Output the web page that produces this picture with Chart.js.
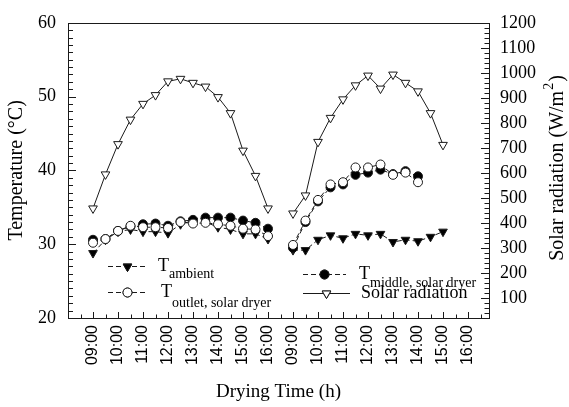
<!DOCTYPE html>
<html>
<head>
<meta charset="utf-8">
<script src="https://cdn.jsdelivr.net/npm/chart.js@4.4.1/dist/chart.umd.min.js"></script>
<style>
  html, body { margin: 0; padding: 0; background: #fff; }
  canvas { display: block; }
</style>
</head>
<body>
<canvas id="dryerChart" width="569" height="407"></canvas>
<script>
// sampling times (every 30 min) for the two drying days
const day1Times = ['09:00', '09:30', '10:00', '10:30', '11:00', '11:30', '12:00', '12:30',
  '13:00', '13:30', '14:00', '14:30', '15:00', '15:30', '16:00'];
const day2Times = ['09:00', '09:30', '10:00', '10:30', '11:00', '11:30', '12:00', '12:30',
  '13:00', '13:30', '14:00', '14:30', '15:00'];
const day2DryerTimes = ['09:00', '09:30', '10:00', '10:30', '11:00', '11:30', '12:00', '12:30',
  '13:00', '13:30', '14:00'];

// temperatures (°C)
const ambientDay1 = [28.8, 30.6, 31.7, 32.0, 31.7, 31.7, 31.5, 32.7, 33.2, 33.0, 32.3, 32.0, 31.4, 31.4, 30.7];
const ambientDay2 = [29.2, 29.2, 30.6, 31.2, 30.8, 31.4, 31.2, 31.4, 30.3, 30.6, 30.4, 31.0, 31.7];
const outletDay1 = [30.2, 30.7, 31.8, 32.5, 32.3, 32.3, 32.2, 33.0, 32.8, 32.9, 32.7, 32.5, 32.1, 32.0, 31.1];
const outletDay2 = [29.9, 33.2, 36.0, 38.1, 38.4, 40.4, 40.4, 40.8, 39.4, 39.7, 38.4];
const middleDay1 = [30.6, 30.7, 31.8, 32.4, 32.7, 32.8, 32.5, 33.1, 33.3, 33.6, 33.6, 33.6, 33.2, 32.9, 32.1];
const middleDay2 = [29.5, 33.0, 35.8, 37.7, 38.1, 39.4, 39.7, 40.1, 39.5, 39.9, 39.2];

// solar radiation (W/m2)
const solarDay1 = [458, 594, 715, 813, 876, 911, 966, 976, 960, 945, 903, 839, 689, 588, 458];
const solarDay2 = [438, 510, 724, 820, 894, 950, 989, 937, 993, 960, 926, 839, 712];

const hourLabels = ['09:00', '10:00', '11:00', '12:00', '13:00', '14:00', '15:00', '16:00'];
const tempTicks = [20, 30, 40, 50, 60];
const solarTicks = [100, 200, 300, 400, 500, 600, 700, 800, 900, 1000, 1100, 1200];

const SERIF = "'Liberation Serif', 'Times New Roman', serif";
const SANS = "'Liberation Sans', Arial, sans-serif";
const INK = '#1a1a1a';

// day 2 is shifted by 8 h so that the two days sit side by side
function toHours(t, day) {
  const [h, m] = t.split(':').map(Number);
  return h + m / 60 + day * 8;
}

function series(times1, vals1, times2, vals2) {
  const a = times1.map((t, i) => ({ x: toHours(t, 0), y: vals1[i] }));
  const b = times2.map((t, i) => ({ x: toHours(t, 1), y: vals2[i] }));
  return a.concat([{ x: 16.5, y: null }], b);
}

// inward ticks + box frame
const frameTicks = {
  id: 'frameTicks',
  beforeDatasetsDraw(chart) {
    const { ctx, chartArea: a, scales } = chart;
    ctx.save();
    ctx.strokeStyle = INK;
    ctx.lineWidth = 1;
    ctx.beginPath();
    // x ticks
    for (let v = 8.5; v < 24.8; v += 0.5) {
      const px = Math.round(scales.x.getPixelForValue(v)) + 0.5;
      const len = Number.isInteger(v) ? 6 : 3.5;
      ctx.moveTo(px, a.bottom);
      ctx.lineTo(px, a.bottom - len);
    }
    // left ticks
    for (let v = 21; v < 60; v += 1) {
      const py = Math.round(scales.y.getPixelForValue(v)) + 0.5;
      const len = v % 10 === 0 ? 8 : 5;
      ctx.moveTo(a.left, py);
      ctx.lineTo(a.left + len, py);
    }
    // right ticks
    for (let v = 40; v < 1200; v += 20) {
      const py = Math.round(scales.y2.getPixelForValue(v)) + 0.5;
      const len = v % 100 === 0 ? 8 : 4.5;
      ctx.moveTo(a.right, py);
      ctx.lineTo(a.right - len, py);
    }
    ctx.stroke();
    ctx.strokeRect(Math.round(a.left) + 0.5, Math.round(a.top) + 0.5,
      Math.round(a.right - a.left), Math.round(a.bottom - a.top));
    ctx.restore();
  }
};

// legend with subscripts, and the right-hand axis title
const legendAndTitle = {
  id: 'legendAndTitle',
  afterDraw(chart) {
    const { ctx } = chart;
    const entries = [
      { ds: 3, x0: 108, x1: 147, y: 266, tx: 158, main: 'T', sub: 'ambient', subDy: 7 },
      { ds: 1, x0: 108, x1: 147, y: 292, tx: 161, main: 'T', sub: 'outlet, solar dryer', subDy: 10 },
      { ds: 2, x0: 303, x1: 346, y: 274, tx: 359, main: 'T', sub: 'middle, solar dryer', subDy: 8 },
      { ds: 0, x0: 303, x1: 350, y: 293, tx: 361, main: 'Solar radiation', sub: '', subDy: 0 }
    ];
    ctx.save();
    entries.forEach(e => {
      const d = chart.data.datasets[e.ds];
      ctx.strokeStyle = INK;
      ctx.lineWidth = 1;
      ctx.setLineDash(d.borderDash || []);
      ctx.beginPath();
      ctx.moveTo(e.x0, e.y + 0.5);
      ctx.lineTo(e.x1, e.y + 0.5);
      ctx.stroke();
      ctx.setLineDash([]);
      Chart.helpers.drawPoint(ctx, {
        pointStyle: d.pointStyle,
        rotation: d.pointRotation || 0,
        radius: d.pointRadius,
        borderWidth: 1
      }, (e.x0 + e.x1) / 2, e.y + 0.5);
      ctx.fillStyle = d.pointBackgroundColor;
      ctx.strokeStyle = INK;
      ctx.fill();
      ctx.stroke();

      ctx.fillStyle = '#000';
      ctx.textBaseline = 'alphabetic';
      ctx.textAlign = 'left';
      ctx.font = '18px ' + SERIF;
      const base = e.y + 5;
      ctx.fillText(e.main, e.tx, base);
      if (e.sub) {
        const w = ctx.measureText(e.main).width;
        ctx.font = '14px ' + SERIF;
        ctx.fillText(e.sub, e.tx + w, base + e.subDy);
      }
    });

    // right axis title, reading bottom to top
    const cx = 558, cy = 168;
    ctx.translate(cx, cy);
    ctx.rotate(-Math.PI / 2);
    ctx.fillStyle = '#000';
    ctx.textBaseline = 'middle';
    ctx.textAlign = 'left';
    ctx.font = '20px ' + SERIF;
    const t1 = 'Solar radiation (W/m';
    const w1 = ctx.measureText(t1).width;
    const w3 = ctx.measureText(')').width;
    ctx.font = '14px ' + SERIF;
    const w2 = ctx.measureText('2').width + 2;
    const start = -(w1 + w2 + w3) / 2;
    ctx.font = '20px ' + SERIF;
    ctx.fillText(t1, start, 0);
    ctx.fillText(')', start + w1 + w2, 0);
    ctx.font = '14px ' + SERIF;
    ctx.fillText('2', start + w1 + 1, -9);
    ctx.restore();
  }
};

const ctx = document.getElementById('dryerChart').getContext('2d');

new Chart(ctx, {
  type: 'line',
  data: {
    datasets: [
      {
        label: 'Solar radiation',
        data: series(day1Times, solarDay1, day2Times, solarDay2),
        yAxisID: 'y2',
        borderColor: INK,
        borderWidth: 1,
        pointStyle: 'triangle',
        pointRotation: 180,
        pointRadius: 5,
        pointBackgroundColor: '#fff',
        pointBorderColor: INK,
        pointBorderWidth: 1,
        order: 0
      },
      {
        label: 'T outlet, solar dryer',
        data: series(day1Times, outletDay1, day2DryerTimes, outletDay2),
        yAxisID: 'y',
        borderColor: INK,
        borderWidth: 1,
        borderDash: [5, 3],
        pointStyle: 'circle',
        pointRadius: 4.5,
        pointBackgroundColor: '#fff',
        pointBorderColor: INK,
        pointBorderWidth: 1,
        order: 1
      },
      {
        label: 'T middle, solar dryer',
        data: series(day1Times, middleDay1, day2DryerTimes, middleDay2),
        yAxisID: 'y',
        borderColor: INK,
        borderWidth: 1,
        borderDash: [5, 3],
        pointStyle: 'circle',
        pointRadius: 4.5,
        pointBackgroundColor: '#000',
        pointBorderColor: INK,
        pointBorderWidth: 1,
        order: 2
      },
      {
        label: 'T ambient',
        data: series(day1Times, ambientDay1, day2Times, ambientDay2),
        yAxisID: 'y',
        borderColor: INK,
        borderWidth: 1,
        borderDash: [5, 3],
        pointStyle: 'triangle',
        pointRotation: 180,
        pointRadius: 5,
        pointBackgroundColor: '#000',
        pointBorderColor: INK,
        pointBorderWidth: 1,
        order: 3
      }
    ]
  },
  options: {
    responsive: false,
    animation: false,
    spanGaps: false,
    layout: { padding: { top: 16, left: 0, right: 0, bottom: 0 } },
    plugins: {
      legend: { display: false },
      tooltip: { enabled: false }
    },
    scales: {
      x: {
        type: 'linear',
        min: 8,
        max: 24.84,
        grid: { display: false, drawTicks: false },
        border: { display: false },
        afterBuildTicks: scale => {
          scale.ticks = hourLabels.concat(hourLabels).map((_, i) => ({ value: 9 + i }));
        },
        afterFit: scale => { scale.height = 89; },
        ticks: {
          autoSkip: false,
          minRotation: 90,
          maxRotation: 90,
          padding: 7,
          color: '#000',
          font: { family: SANS, size: 16 },
          callback: v => hourLabels[(v - 9) % 8]
        },
        title: {
          display: true,
          text: 'Drying Time (h)',
          color: '#000',
          font: { family: SERIF, size: 19 },
          padding: { top: 0, bottom: 4 }
        }
      },
      y: {
        position: 'left',
        min: 20,
        max: 60,
        grid: { display: false, drawTicks: false },
        border: { display: false },
        afterBuildTicks: scale => {
          scale.ticks = tempTicks.map(v => ({ value: v }));
        },
        afterFit: scale => { scale.width = 68; },
        ticks: {
          padding: 12,
          color: '#000',
          font: { family: SERIF, size: 18 },
          callback: v => String(v)
        },
        title: {
          display: true,
          text: 'Temperature (°C)',
          color: '#000',
          font: { family: SERIF, size: 20 },
          padding: { top: 5, bottom: 0 }
        }
      },
      y2: {
        position: 'right',
        min: 20,
        max: 1200,
        grid: { display: false, drawTicks: false },
        border: { display: false },
        afterBuildTicks: scale => {
          scale.ticks = solarTicks.map(v => ({ value: v }));
        },
        afterFit: scale => { scale.width = 80; },
        ticks: {
          padding: 11,
          color: '#000',
          font: { family: SERIF, size: 18 },
          callback: v => String(v)
        }
      }
    }
  },
  plugins: [frameTicks, legendAndTitle]
});
</script>
</body>
</html>
